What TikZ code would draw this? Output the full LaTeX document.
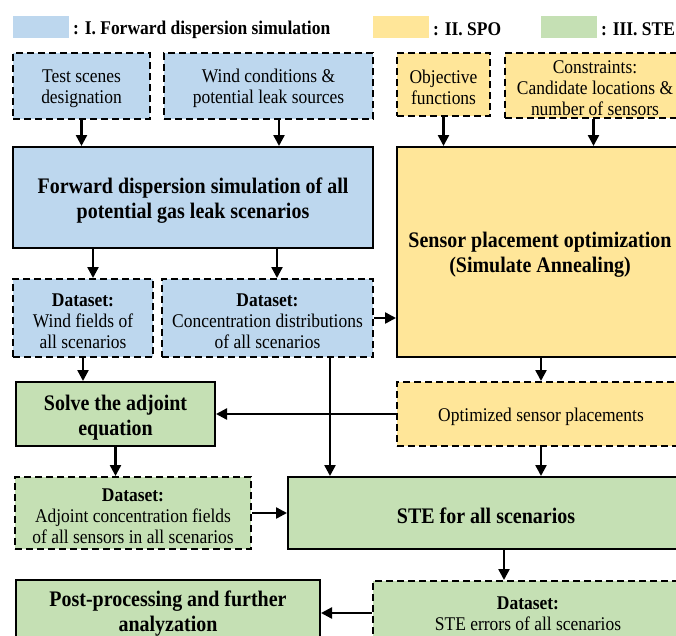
\documentclass[tikz,border=0pt]{standalone}
\usepackage{fontspec}
\setmainfont{Liberation Serif}[FakeStretch=0.9]
\usetikzlibrary{arrows.meta}
\definecolor{cblue}{HTML}{BDD7EE}
\definecolor{cyel}{HTML}{FFE699}
\definecolor{cgrn}{HTML}{C5E0B4}
\newcommand{\tstrut}{\rule{0pt}{0.98em}}
\begin{document}
\begin{tikzpicture}[x=1pt,y=-1pt,
  base/.style={draw=black, line width=2pt, align=center, inner sep=2pt, text=black},
  solidbox/.style={base, font=\fontsize{22.2}{25}\selectfont\bfseries},
  dashbox/.style={base, dash pattern=on 7pt off 4pt, font=\fontsize{19.4}{21}\selectfont},
  arr/.style={line width=2.4pt, -{Triangle[length=11pt,width=11pt]}},
  legrect/.style={minimum width=56pt, minimum height=22pt, inner sep=0pt},
  legtext/.style={anchor=west, font=\fontsize{19.4}{21}\selectfont\bfseries, inner sep=0pt}
]
\useasboundingbox (0,0) rectangle (676,635);
\clip (0,0) rectangle (676,635);

% legend
\node[legrect, fill=cblue] (lgb) at (41,27) {};
\node[legtext] (lgbt) at (73,29.5) {: I. Forward dispersion simulation};
\node[legrect, fill=cyel] (lgy) at (401,27) {};
\node[legtext] (lgyt) at (433,29.5) {: II. SPO};
\node[legrect, fill=cgrn] (lgg) at (569,27) {};
\node[legtext] (lggt) at (601,29.5) {: III. STE};

% row 1
\node[dashbox, fill=cblue, minimum width=137pt, minimum height=66pt] (test) at (81.5,86) {\tstrut Test scenes\\designation};
\node[dashbox, fill=cblue, minimum width=209pt, minimum height=66pt] (wind) at (268.5,86) {\tstrut Wind conditions \&\\potential leak sources};
\node[dashbox, fill=cyel, minimum width=93pt, minimum height=63pt] (obj) at (443.5,84.5) {\tstrut Objective\\functions};
\node[dashbox, fill=cyel, minimum width=180pt, minimum height=65pt] (cons) at (595,85.5) {\tstrut Constraints:\\Candidate locations \&\\number of sensors};

% row 2
\node[solidbox, fill=cblue, minimum width=360pt, minimum height=101pt] (fwd) at (193,197.5) {\tstrut Forward dispersion simulation of all\\potential gas leak scenarios};
\node[solidbox, fill=cyel, minimum width=286pt, minimum height=210pt] (spo) at (540,252) {\tstrut Sensor placement optimization\\(Simulate Annealing)};

% datasets
\node[dashbox, fill=cblue, minimum width=140pt, minimum height=78pt] (dwind) at (83,318) {\tstrut\textbf{Dataset:}\\Wind fields of\\all scenarios};
\node[dashbox, fill=cblue, minimum width=211pt, minimum height=78pt] (dconc) at (267.5,318) {\tstrut\textbf{Dataset:}\\Concentration distributions\\of all scenarios};

% row 4
\node[solidbox, fill=cgrn, minimum width=199pt, minimum height=64pt] (solve) at (115.5,414) {\tstrut Solve the adjoint\\equation};
\node[dashbox, fill=cyel, minimum width=288pt, minimum height=64pt] (opt) at (541,414) {\tstrut Optimized sensor placements};

% row 5
\node[dashbox, fill=cgrn, minimum width=236pt, minimum height=72pt] (dadj) at (133,513) {\tstrut\textbf{Dataset:}\\Adjoint concentration fields\\of all sensors in all scenarios};
\node[solidbox, fill=cgrn, minimum width=396pt, minimum height=72pt] (ste) at (486,513) {\tstrut STE for all scenarios};

% row 6
\node[dashbox, fill=cgrn, minimum width=310pt, minimum height=60pt] (derr) at (528,611) {\tstrut\textbf{Dataset:}\\STE errors of all scenarios};
\node[solidbox, fill=cgrn, minimum width=304pt, minimum height=62pt] (post) at (168,611) {\tstrut Post-processing and further\\analyzation};

% arrows
\draw[arr] (test.south) -- (test.south |- fwd.north);
\draw[arr] ([xshift=10.5pt]wind.south) -- ([xshift=10.5pt]wind.south |- fwd.north);
\draw[arr] (obj.south) -- (obj.south |- spo.north);
\draw[arr] ([xshift=-1.5pt]cons.south) -- ([xshift=-1.5pt]cons.south |- spo.north);
\draw[arr] ([xshift=10pt]dwind.north |- fwd.south) -- ([xshift=10pt]dwind.north);
\draw[arr] ([xshift=9.5pt]dconc.north |- fwd.south) -- ([xshift=9.5pt]dconc.north);
\draw[arr] (dconc.east) -- (dconc.east -| spo.west);
\draw[arr] (dwind.south) -- (dwind.south |- solve.north);
\draw[arr] ([xshift=62.5pt]dconc.south) -- ([xshift=62.5pt]dconc.south |- ste.north);
\draw[arr] (spo.south -| opt.north) -- (opt.north);
\draw[arr] (opt.west) -- (opt.west -| solve.east);
\draw[arr] (opt.south) -- (opt.south |- ste.north);
\draw[arr] (solve.south) -- (solve.south |- dadj.north);
\draw[arr] (dadj.east) -- (dadj.east -| ste.west);
\draw[arr] ([xshift=18pt]ste.south) -- ([xshift=18pt]ste.south |- derr.north);
\draw[arr] ([yshift=-2pt]derr.west) -- ([yshift=-2pt]derr.west -| post.east);
\end{tikzpicture}
\end{document}
